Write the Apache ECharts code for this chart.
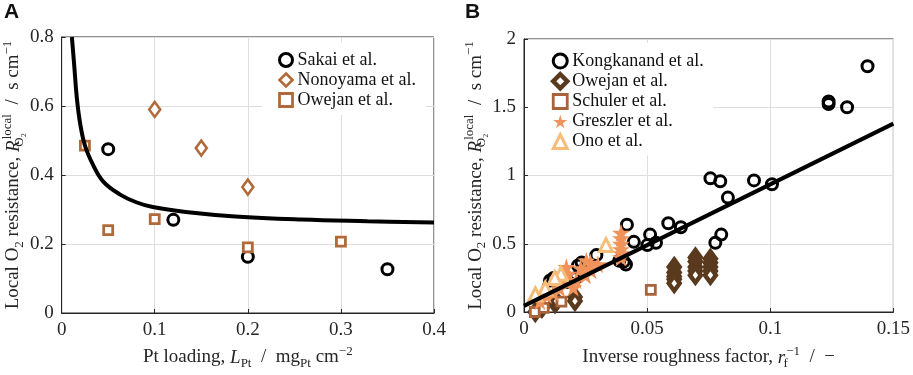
<!DOCTYPE html>
<html>
<head>
<meta charset="utf-8">
<script src="https://cdn.jsdelivr.net/npm/echarts@6/dist/echarts.min.js"></script>
<style>
  html, body { margin: 0; padding: 0; background: #fff; }
  #main { width: 913px; height: 375px; }
</style>
</head>
<body>
<div id="main"></div>
<script>
// ---- panel A: local O2 resistance vs Pt loading ----
var loadingSakai = [0.05, 0.12, 0.2, 0.35];
var resSakai = [0.475, 0.27, 0.163, 0.127];
var loadingNonoyama = [0.1, 0.15, 0.2];
var resNonoyama = [0.59, 0.478, 0.365];
var loadingOwejanA = [0.025, 0.05, 0.1, 0.2, 0.3];
var resOwejanA = [0.485, 0.24, 0.272, 0.19, 0.207];
// model curve
var fitLoading = [0.011, 0.0135, 0.0163, 0.0199, 0.0252, 0.034, 0.0447, 0.0624, 0.0801, 0.0979, 0.1333, 0.1865, 0.2574, 0.3284, 0.4];
var fitResA = [0.80, 0.718, 0.624, 0.549, 0.484, 0.428, 0.381, 0.344, 0.321, 0.307, 0.293, 0.280, 0.271, 0.266, 0.262];
var ticksA_x = [0, 0.1, 0.2, 0.3, 0.4];
var ticksA_y = [0, 0.2, 0.4, 0.6, 0.8];

// ---- panel B: local O2 resistance vs inverse roughness factor ----
var rfKong = [0.1395, 0.1237, 0.1237, 0.1312, 0.0757, 0.0797, 0.0934, 0.1007, 0.0828, 0.0586, 0.0637, 0.0418, 0.0446, 0.0512, 0.0501, 0.0536, 0.0801, 0.0777, 0.0387, 0.0414, 0.0405, 0.0294, 0.0234, 0.0234, 0.0219, 0.0106, 0.0100, 0.0120, 0.0180, 0.0210];
var resKong = [1.80, 1.543, 1.524, 1.50, 0.979, 0.957, 0.964, 0.936, 0.838, 0.65, 0.621, 0.64, 0.514, 0.567, 0.49, 0.507, 0.567, 0.507, 0.376, 0.348, 0.37, 0.417, 0.362, 0.30, 0.34, 0.231, 0.183, 0.25, 0.22, 0.25];
var rfOwejanB = [0.0046, 0.0073, 0.0126, 0.0132, 0.0207, 0.0207, 0.061, 0.061, 0.061, 0.061, 0.061, 0.0696, 0.0696, 0.0696, 0.0696, 0.0696, 0.0757, 0.0757, 0.0757, 0.0757, 0.0757];
var resOwejanB = [0.0, 0.03, 0.064, 0.08, 0.11, 0.08, 0.33, 0.29, 0.26, 0.24, 0.21, 0.4, 0.37, 0.33, 0.3, 0.27, 0.39, 0.36, 0.33, 0.3, 0.27];
var rfSchuler = [0.0044, 0.008, 0.0152, 0.0515];
var resSchuler = [0.0, 0.03, 0.076, 0.162];
var rfGreszler = [0.0394, 0.0394, 0.0394, 0.0394, 0.0394, 0.0394, 0.0172, 0.0253, 0.0273, 0.0212, 0.0145, 0.0091, 0.0065, 0.018, 0.023, 0.027, 0.030, 0.020, 0.012, 0.016, 0.025];
var resGreszler = [0.58, 0.54, 0.50, 0.46, 0.43, 0.40, 0.33, 0.376, 0.305, 0.233, 0.174, 0.126, 0.079, 0.28, 0.32, 0.36, 0.35, 0.18, 0.14, 0.24, 0.27];
var rfOno = [0.0333, 0.0150, 0.0086, 0.0046, 0.0125];
var resOno = [0.49, 0.28, 0.172, 0.13, 0.25];
var fitRf = [0, 0.15];
var fitResB = [0.045, 1.38];
var ticksB_x = [0, 0.05, 0.1, 0.15];
var ticksB_y = [0, 0.5, 1, 1.5, 2];

function pairs(xs, ys) {
  return xs.map(function (x, i) { return [x, ys[i]]; });
}

var serif = 'Liberation Serif';
var ink = '#262626';
var starPath = 'path://M50,0 L61,35 L98,35 L68,57 L79,91 L50,70 L21,91 L32,57 L2,35 L39,35 Z';

var rich = {
  n: { fontFamily: serif, fontSize: 19, color: ink },
  i: { fontFamily: serif, fontSize: 19, fontStyle: 'italic', color: ink },
  s: { fontFamily: serif, fontSize: 13, color: ink, padding: [12, 0, 0, 0] },
  s0: { fontFamily: serif, fontSize: 13, color: ink, padding: [12, 0, 0, 0], width: 1 },
  p: { fontFamily: serif, fontSize: 13, color: ink, padding: [0, 0, 12, 0] }
};

function valueAxis(idx, min, max, step, name, gap) {
  return {
    type: 'value', gridIndex: idx, min: min, max: max, interval: step,
    name: name, nameLocation: 'middle', nameGap: gap,
    nameTextStyle: { rich: rich },
    axisLine: { show: true, lineStyle: { color: ink, width: 1 } },
    axisTick: { show: true, inside: true, length: 4, lineStyle: { color: ink } },
    axisLabel: { fontFamily: serif, fontSize: 19, color: ink, margin: 8 },
    splitLine: { show: true, lineStyle: { color: '#dedede', width: 1 } }
  };
}

// marker styles, shared by series and legend icons
var styleSakai = { color: '#fff', borderColor: '#000', borderWidth: 3, opacity: 1 };
var styleNonoyama = { color: '#fff', borderColor: '#b2693a', borderWidth: 2.6, opacity: 1 };
var styleOwejanA = { color: '#fff', borderColor: '#b2693a', borderWidth: 2.8, opacity: 1 };
var styleKong = { color: 'rgba(255,255,255,0)', borderColor: '#000', borderWidth: 3, opacity: 1 };
var styleOwejanB = { color: '#fff', borderColor: '#5a3a1e', borderWidth: 4.5, opacity: 1 };
var styleSchuler = { color: '#fff', borderColor: '#a9633a', borderWidth: 2.8, opacity: 1 };
var styleGreszler = { color: '#f0935a', opacity: 1 };
var styleOno = { color: '#fff', borderColor: '#f7bd78', borderWidth: 3, opacity: 1 };

var legendText = { fontFamily: serif, fontSize: 18, color: '#111' };

var chart = echarts.init(document.getElementById('main'));

var option = {
  animation: false,
  backgroundColor: '#fff',
  textStyle: { fontFamily: serif },
  graphic: [
    { type: 'text', left: 4, top: 2, style: { text: 'A', font: 'bold 21px "Liberation Sans"', fill: '#111' } },
    { type: 'text', left: 465, top: 2, style: { text: 'B', font: 'bold 21px "Liberation Sans"', fill: '#111' } }
  ],
  grid: [
    { left: 58, right: 479, top: 37, bottom: 52, show: true, borderColor: ink, borderWidth: 1 },
    { left: 524, right: 17, top: 39, bottom: 56, show: true, borderColor: ink, borderWidth: 1 }
  ],
  xAxis: [
    valueAxis(0, ticksA_x[0], ticksA_x[ticksA_x.length - 1], 0.1,
      '{n|Pt loading, }{i|L}{s|Pt}{n|  /  mg}{s|Pt}{n| cm}{p|−2}', 32),
    valueAxis(1, ticksB_x[0], ticksB_x[ticksB_x.length - 1], 0.05,
      '{n|Inverse roughness factor, }{i|r}{s0|f}{p|−1}{n|  /  −}', 33)
  ],
  yAxis: [
    valueAxis(0, ticksA_y[0], ticksA_y[ticksA_y.length - 1], 0.2,
      '{n|Local O}{s|2}{n| resistance, }{i|R}{s0|O₂}{p|local}{n|  /  s cm}{p|−1}', 35),
    valueAxis(1, ticksB_y[0], ticksB_y[ticksB_y.length - 1], 0.5,
      '{n|Local O}{s|2}{n| resistance, }{i|R}{s0|O₂}{p|local}{n|  /  s cm}{p|−1}', 32)
  ],
  legend: [
    {
      orient: 'vertical', left: 262, top: 42, padding: [9, 10, 6, 16],
      backgroundColor: '#fff', itemGap: 2, itemWidth: 13, itemHeight: 13,
      textStyle: legendText,
      data: [
        { name: 'Sakai et al.', itemStyle: styleSakai },
        { name: 'Nonoyama et al.', itemStyle: styleNonoyama },
        { name: 'Owejan et al.', itemStyle: styleOwejanA }
      ]
    },
    {
      orient: 'vertical', left: 528, top: 43, padding: [9, 10, 5, 23],
      backgroundColor: '#fff', itemGap: 2, itemWidth: 14, itemHeight: 14,
      textStyle: legendText,
      data: [
        { name: 'Kongkanand et al.', itemStyle: styleKong },
        { name: 'Owejan et al. ', itemStyle: styleOwejanB },
        { name: 'Schuler et al.', itemStyle: styleSchuler },
        { name: 'Greszler et al.', itemStyle: styleGreszler },
        { name: 'Ono et al.', itemStyle: styleOno }
      ]
    }
  ],
  series: [
    {
      name: 'Sakai et al.', type: 'scatter', xAxisIndex: 0, yAxisIndex: 0,
      symbol: 'circle', symbolSize: 11, itemStyle: styleSakai,
      data: pairs(loadingSakai, resSakai)
    },
    {
      name: 'Nonoyama et al.', type: 'scatter', xAxisIndex: 0, yAxisIndex: 0,
      symbol: 'diamond', symbolSize: [11, 15], itemStyle: styleNonoyama,
      data: pairs(loadingNonoyama, resNonoyama)
    },
    {
      name: 'Owejan et al.', type: 'scatter', xAxisIndex: 0, yAxisIndex: 0,
      symbol: 'rect', symbolSize: 9, itemStyle: styleOwejanA,
      data: pairs(loadingOwejanA, resOwejanA)
    },
    {
      name: 'fitA', type: 'line', xAxisIndex: 0, yAxisIndex: 0,
      symbol: 'none', smooth: 0.4, z: 5,
      lineStyle: { color: '#000', width: 4 },
      data: pairs(fitLoading, fitResA)
    },
    {
      name: 'Kongkanand et al.', type: 'scatter', xAxisIndex: 1, yAxisIndex: 1,
      symbol: 'circle', symbolSize: 11, itemStyle: styleKong,
      data: pairs(rfKong, resKong)
    },
    {
      name: 'Owejan et al. ', type: 'scatter', xAxisIndex: 1, yAxisIndex: 1,
      symbol: 'diamond', symbolSize: [11, 15], itemStyle: styleOwejanB,
      data: pairs(rfOwejanB, resOwejanB)
    },
    {
      name: 'Schuler et al.', type: 'scatter', xAxisIndex: 1, yAxisIndex: 1,
      symbol: 'rect', symbolSize: 9, itemStyle: styleSchuler,
      data: pairs(rfSchuler, resSchuler)
    },
    {
      name: 'Greszler et al.', type: 'scatter', xAxisIndex: 1, yAxisIndex: 1,
      symbol: starPath, symbolSize: 18, itemStyle: styleGreszler,
      data: pairs(rfGreszler, resGreszler)
    },
    {
      name: 'Ono et al.', type: 'scatter', xAxisIndex: 1, yAxisIndex: 1,
      symbol: 'triangle', symbolSize: 13, itemStyle: styleOno,
      data: pairs(rfOno, resOno)
    },
    {
      name: 'fitB', type: 'line', xAxisIndex: 1, yAxisIndex: 1,
      symbol: 'none', z: 5,
      lineStyle: { color: '#000', width: 4 },
      data: pairs(fitRf, fitResB)
    }
  ]
};

chart.setOption(option);
</script>
</body>
</html>
